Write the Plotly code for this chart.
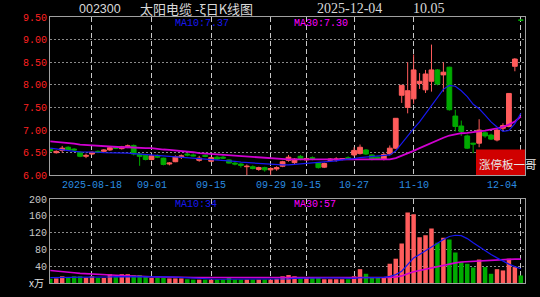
import pandas as pd
import plotly.graph_objects as go

# ---------------- data ----------------
opens = [6.57, 6.50, 6.55, 6.62, 6.58, 6.51, 6.42, 6.47, 6.53, 6.53,
         6.56, 6.62, 6.59, 6.63, 6.66, 6.47, 6.44, 6.35, 6.44, 6.38,
         6.25, 6.30, 6.40, 6.47, 6.45, 6.33, 6.44, 6.31, 6.40, 6.40,
         6.34, 6.27, 6.25, 6.19, 6.19, 6.13, 6.17, 6.12, 6.14, 6.20,
         6.33, 6.28, 6.42, 6.34, 6.39, 6.28, 6.18, 6.33, 6.34, 6.35,
         6.39, 6.45, 6.48, 6.56, 6.45, 6.40, 6.36, 6.47, 6.60, 7.77,
         7.50, 7.69, 8.03, 7.89, 8.08, 8.33, 8.22, 8.39, 7.31, 7.09,
         6.87, 6.71, 6.71, 6.94, 6.89, 6.78, 7.04, 7.08, 8.41, 9.43]
highs = [6.60, 6.55, 6.65, 6.64, 6.60, 6.53, 6.48, 6.53, 6.55, 6.58,
         6.63, 6.64, 6.65, 6.68, 6.68, 6.50, 6.46, 6.45, 6.46, 6.39,
         6.29, 6.44, 6.46, 6.50, 6.48, 6.43, 6.46, 6.41, 6.43, 6.44,
         6.35, 6.30, 6.27, 6.24, 6.22, 6.19, 6.19, 6.18, 6.20, 6.32,
         6.45, 6.38, 6.45, 6.39, 6.42, 6.29, 6.28, 6.38, 6.40, 6.38,
         6.42, 6.62, 6.68, 6.58, 6.46, 6.42, 6.50, 6.66, 7.26, 7.99,
         8.50, 8.67, 8.26, 8.33, 8.89, 8.35, 8.50, 8.40, 7.45, 7.21,
         6.90, 6.72, 7.24, 6.97, 6.92, 7.03, 7.15, 7.81, 8.59, 9.43]
lows = [6.52, 6.48, 6.50, 6.55, 6.54, 6.40, 6.38, 6.45, 6.49, 6.51,
        6.54, 6.58, 6.57, 6.60, 6.44, 6.21, 6.33, 6.33, 6.38, 6.22,
        6.22, 6.29, 6.36, 6.42, 6.42, 6.30, 6.40, 6.29, 6.34, 6.36,
        6.26, 6.22, 6.17, 6.00, 6.13, 6.10, 6.08, 6.00, 6.10, 6.18,
        6.30, 6.25, 6.33, 6.32, 6.33, 6.15, 6.16, 6.31, 6.30, 6.33,
        6.34, 6.42, 6.46, 6.45, 6.33, 6.35, 6.33, 6.44, 6.58, 7.60,
        7.37, 7.58, 7.91, 7.82, 7.85, 7.99, 7.85, 7.43, 6.97, 6.87,
        6.58, 6.49, 6.62, 6.83, 6.78, 6.75, 7.00, 7.06, 8.30, 9.43]
closes = [6.54, 6.53, 6.60, 6.56, 6.56, 6.42, 6.44, 6.51, 6.51, 6.56,
          6.61, 6.60, 6.63, 6.65, 6.47, 6.42, 6.35, 6.43, 6.40, 6.24,
          6.27, 6.41, 6.43, 6.45, 6.43, 6.38, 6.42, 6.39, 6.36, 6.38,
          6.27, 6.25, 6.22, 6.20, 6.15, 6.17, 6.12, 6.15, 6.17, 6.30,
          6.40, 6.36, 6.35, 6.37, 6.37, 6.17, 6.26, 6.36, 6.36, 6.37,
          6.37, 6.55, 6.62, 6.47, 6.36, 6.37, 6.46, 6.60, 7.26, 7.99,
          7.87, 8.33, 8.08, 8.24, 8.33, 8.02, 8.28, 7.45, 7.08, 6.97,
          6.60, 6.69, 7.00, 6.87, 6.80, 7.00, 7.10, 7.81, 8.57, 9.43]
volumes = [10, 11, 16, 12, 16, 16, 13, 16, 12, 12,
           21, 14, 21, 21, 19, 19, 16, 12, 12, 12,
           11, 11, 11, 9, 8, 8, 8, 8, 8, 8,
           14, 8, 8, 8, 8, 8, 8, 8, 10, 16,
           19, 16, 13, 13, 13, 13, 9, 9, 9, 9,
           9, 16, 33, 22, 13, 13, 13, 46, 58, 94,
           168, 164, 109, 114, 130, 96, 108, 104, 73, 50,
           46, 37, 56, 38, 22, 33, 30, 58, 38, 18]
ma10 = [6.60, 6.58, 6.56, 6.54, 6.53, 6.52, 6.52, 6.51, 6.51, 6.50,
        6.50, 6.50, 6.49, 6.49, 6.48, 6.47, 6.46, 6.45, 6.44, 6.43,
        6.42, 6.41, 6.40, 6.40, 6.39, 6.38, 6.37, 6.36, 6.35, 6.34,
        6.33, 6.31, 6.29, 6.28, 6.27, 6.26, 6.25, 6.24, 6.23, 6.23,
        6.23, 6.24, 6.25, 6.26, 6.27, 6.28, 6.29, 6.31, 6.32, 6.34,
        6.35, 6.37, 6.39, 6.40, 6.41, 6.42, 6.43, 6.45, 6.54, 6.71,
        6.86, 7.03, 7.18, 7.36, 7.55, 7.72, 7.90, 7.99, 7.97, 7.87,
        7.74, 7.57, 7.47, 7.33, 7.18, 7.07, 6.97, 6.99, 7.14, 7.37]
ma30 = [6.75, 6.74, 6.72, 6.71, 6.70, 6.68, 6.67, 6.66, 6.65, 6.64,
        6.63, 6.63, 6.62, 6.62, 6.61, 6.61, 6.60, 6.60, 6.58, 6.57,
        6.56, 6.55, 6.53, 6.52, 6.51, 6.49, 6.48, 6.47, 6.47, 6.46,
        6.45, 6.44, 6.43, 6.42, 6.41, 6.40, 6.39, 6.38, 6.37, 6.36,
        6.35, 6.35, 6.35, 6.34, 6.34, 6.34, 6.34, 6.34, 6.34, 6.34,
        6.34, 6.34, 6.34, 6.34, 6.34, 6.34, 6.34, 6.35, 6.38, 6.43,
        6.48, 6.54, 6.60, 6.66, 6.72, 6.77, 6.83, 6.88, 6.91, 6.93,
        6.94, 6.95, 6.97, 6.99, 7.01, 7.04, 7.07, 7.12, 7.19, 7.30]
vma10 = [13, 13, 13, 13, 13, 13.5, 13.5, 14, 14, 14,
         14.5, 15, 15, 15.5, 16, 16, 16, 16, 15.5, 15,
         14.5, 14, 13, 12, 11.5, 10.5, 10, 9.5, 9, 9,
         9, 9, 9, 9, 9, 9, 9, 9, 9, 9.5,
         10, 11, 11.5, 12, 12.5, 13, 13, 12.5, 12, 11.5,
         11, 11, 12.5, 13, 13, 13, 13.5, 16, 20, 28,
         45, 60, 68, 77, 88, 96, 104, 111, 114, 113,
         106, 96, 86, 77, 68, 60, 52, 45, 39, 34]
vma30 = [30, 29, 27.5, 26, 24.5, 23, 22, 21, 20.5, 20,
         19, 18.5, 18, 17, 16.5, 16, 15.5, 15, 14.5, 14,
         14, 13.5, 13.5, 13, 13, 13, 13, 12.5, 12.5, 12.5,
         12.5, 12.5, 12.5, 12.5, 12, 12, 12, 12, 12, 12,
         12, 12, 12, 12, 12, 12, 12, 12, 12, 11.5,
         11.5, 11.5, 12, 12, 12, 12, 12, 13, 14.5, 17,
         22, 27, 30, 33, 37, 40, 43, 46, 48, 50,
         51, 52, 53, 54, 54.5, 55, 55.5, 56.5, 57, 57]

holidays = ["2025-10-01", "2025-10-02", "2025-10-03", "2025-10-06", "2025-10-07", "2025-10-08"]
dates = [d for d in pd.bdate_range("2025-08-07", "2025-12-04")
         if d.strftime("%Y-%m-%d") not in holidays]
date_keys = [d.strftime("%Y-%m-%d") for d in dates]
tick_dates = ["2025-08-18", "2025-09-01", "2025-09-15", "2025-09-29",
              "2025-10-15", "2025-10-27", "2025-11-10", "2025-12-04"]
tick_labels = ["2025-08-18", "09-01", "09-15", "09-29", "10-15", "10-27", "11-10", "12-04"]
price_ticks = [6.0, 6.5, 7.0, 7.5, 8.0, 8.5, 9.0, 9.5]
vol_ticks = [40, 80, 120, 160, 200]

# ---------------- styling ----------------
RED = "#FF5C5C"
GREEN = "#00AA00"
BLUE = "#1818F0"
MAG = "#D000D0"
BG = "#000000"

idx = list(range(len(dates)))
tick_idx = [date_keys.index(d) for d in tick_dates]

L, R, T, B = 50, 525, 17, 283
W, H = R - L, B - T


def px(x):
    return (x - L) / W


def py(y):
    return (B - y) / H


fig = go.Figure()
moving = [i for i in idx if opens[i] != closes[i]]
flat = [i for i in idx if opens[i] == closes[i]]
fig.add_trace(go.Candlestick(
    x=moving, open=[opens[i] for i in moving], high=[highs[i] for i in moving],
    low=[lows[i] for i in moving], close=[closes[i] for i in moving],
    increasing=dict(line=dict(color=RED, width=1), fillcolor=RED),
    decreasing=dict(line=dict(color=GREEN, width=1), fillcolor=GREEN),
    whiskerwidth=0, xaxis="x", yaxis="y", hoverinfo="skip", showlegend=False))
fig.add_trace(go.Candlestick(
    x=flat, open=[opens[i] for i in flat], high=[highs[i] for i in flat],
    low=[lows[i] for i in flat], close=[closes[i] for i in flat],
    increasing=dict(line=dict(color=GREEN, width=1), fillcolor=GREEN),
    decreasing=dict(line=dict(color=GREEN, width=1), fillcolor=GREEN),
    whiskerwidth=0, xaxis="x", yaxis="y", hoverinfo="skip", showlegend=False))
fig.add_trace(go.Scatter(x=idx, y=ma30, mode="lines", line=dict(color=MAG, width=1.8),
                         xaxis="x", yaxis="y", hoverinfo="skip", showlegend=False))
fig.add_trace(go.Scatter(x=idx, y=ma10, mode="lines", line=dict(color=BLUE, width=1.2),
                         xaxis="x", yaxis="y", hoverinfo="skip", showlegend=False))

vol_colors = [RED if c > o else GREEN for o, c in zip(opens, closes)]
fig.add_trace(go.Bar(x=idx, y=volumes, marker=dict(color=vol_colors, line=dict(width=0)),
                     xaxis="x2", yaxis="y2", hoverinfo="skip", showlegend=False))
fig.add_trace(go.Scatter(x=idx, y=vma30, mode="lines", line=dict(color=MAG, width=1.6),
                         xaxis="x2", yaxis="y2", hoverinfo="skip", showlegend=False))
fig.add_trace(go.Scatter(x=idx, y=vma10, mode="lines", line=dict(color=BLUE, width=1.2),
                         xaxis="x2", yaxis="y2", hoverinfo="skip", showlegend=False))

xrange = [-0.05, 79.7]
xcommon = dict(range=xrange, tickvals=tick_idx, showticklabels=False, ticks="",
               showgrid=True, gridcolor="#C8C8C8", griddash="5px,3px", gridwidth=1,
               showline=True, mirror=True, linecolor="#A0A0A0", linewidth=1,
               zeroline=False, fixedrange=True, automargin=False)
mono = "Liberation Mono, DejaVu Sans Mono, monospace"

fig.update_layout(
    width=540, height=297, autosize=False,
    margin=dict(l=L, r=540 - R, t=T, b=297 - B, pad=0, autoexpand=False),
    paper_bgcolor=BG, plot_bgcolor=BG,
    bargap=0.25, boxgap=0.2, boxgroupgap=0,
    xaxis=dict(anchor="y", rangeslider=dict(visible=False), **xcommon),
    xaxis2=dict(anchor="y2", matches="x", **xcommon),
    yaxis=dict(domain=[py(175.3), 1], range=[6.0, 9.5], tickvals=price_ticks,
               ticktext=[f"{v:.2f}" for v in price_ticks],
               tickfont=dict(family=mono, size=10, color="#FF2020"), ticks="",
               showgrid=True, gridcolor="#8A8A8A", griddash="2px,2px", gridwidth=1,
               showline=True, mirror=True, linecolor="#A0A0A0", linewidth=1,
               zeroline=False, fixedrange=True, automargin=False),
    yaxis2=dict(domain=[0, py(199.2)], range=[0, 200], tickvals=vol_ticks,
                ticktext=[str(v) for v in vol_ticks],
                tickfont=dict(family=mono, size=10, color="#C8C8C8"), ticks="",
                showgrid=True, gridcolor="#8A8A8A", griddash="2px,2px", gridwidth=1,
                showline=True, mirror=True, linecolor="#A0A0A0", linewidth=1,
                zeroline=False, fixedrange=True, automargin=False),
)

ann = []
# x tick labels (between the panels)
for i, (ti, lab) in enumerate(zip(tick_idx, tick_labels)):
    last = i == len(tick_idx) - 1
    ann.append(dict(x=ti, xref="x", y=py(185), yref="paper", text=lab, showarrow=False,
                    xanchor="right" if last else "center", yanchor="middle",
                    xshift=-2 if last else 0,
                    font=dict(family=mono, size=10, color="#2A8CE0")))

# header
title_font = dict(family="Liberation Serif, serif", size=14, color="#D8D8D8")
ann.append(dict(x=px(100), y=py(8.5), xref="paper", yref="paper", text="002300",
                showarrow=False, xanchor="center", yanchor="middle",
                font=dict(family="Liberation Sans, sans-serif", size=12.5, color="#D8D8D8")))
ann.append(dict(x=px(196), y=py(8), xref="paper", yref="paper", text="太阳电缆 -ξ日K线图",
                showarrow=False, xanchor="center", yanchor="middle",
                font=dict(family="Noto Sans CJK SC", size=13, color="#D8D8D8")))
ann.append(dict(x=px(349), y=py(8.5), xref="paper", yref="paper", text=date_keys[-1],
                showarrow=False, xanchor="center", yanchor="middle", font=title_font))
ann.append(dict(x=px(429), y=py(8.5), xref="paper", yref="paper", text="10.05",
                showarrow=False, xanchor="center", yanchor="middle", font=title_font))

# MA readouts
lab_font = dict(family=mono, size=10)
for text, xx, yy, col in [
    (f"MA10:{ma10[-1]:.2f}", 173, 24, BLUE),
    (f"MA30:{ma30[-1]:.2f}", 292, 24, "#FF00FF"),
    (f"MA10:{vma10[-1]:.0f}", 173, 204.5, BLUE),
    (f"MA30:{vma30[-1]:.0f}", 292, 204.5, "#FF00FF"),
]:
    ann.append(dict(x=px(xx), y=py(yy), xref="paper", yref="paper", text=text,
                    showarrow=False, xanchor="left", yanchor="middle",
                    font=dict(color=col, **lab_font)))

# volume unit
ann.append(dict(x=px(46), y=py(282), xref="paper", yref="paper", text="x万",
                showarrow=False, xanchor="right", yanchor="middle",
                font=dict(family="Noto Sans CJK SC", size=10, color="#E0E0E0")))

# red badge
ann.append(dict(x=px(477), y=py(163.5), xref="paper", yref="paper", text="涨停板一哥",
                showarrow=False, xanchor="left", yanchor="middle",
                font=dict(family="Noto Sans CJK SC", size=11.5, color="#E8E8E8")))

fig.update_layout(
    annotations=ann,
    shapes=[dict(type="rect", xref="paper", yref="paper",
                 x0=px(476), x1=px(525), y0=py(175), y1=py(149.5),
                 fillcolor="#D00000", line=dict(width=0), layer="above")],
)

fig.write_html("out.html")
